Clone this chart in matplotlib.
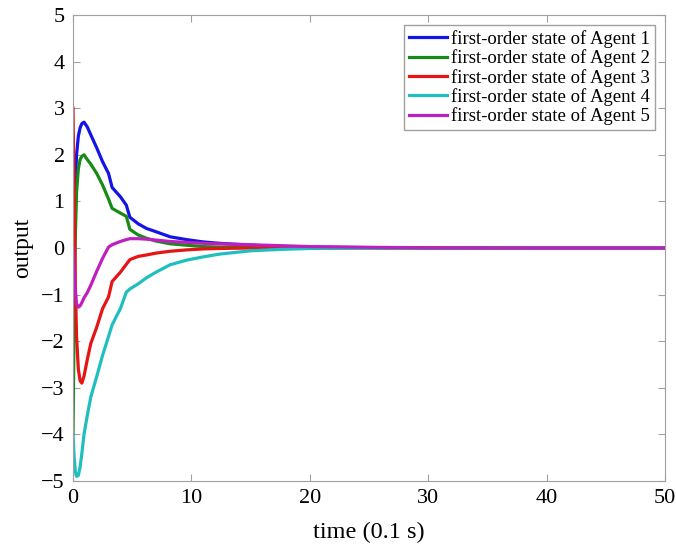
import matplotlib
matplotlib.use('Agg')
import matplotlib.pyplot as plt

plt.rcParams['font.family'] = ['Liberation Serif', 'DejaVu Serif']

# time axis (units of 0.1 s), shared by all agents
T = [0, 0.1, 0.2, 0.3, 0.45, 0.6, 0.75, 0.93, 1.2, 1.5, 2.0, 2.5, 3.0, 3.3, 4.0,
     4.5, 4.8, 5.5, 6.2, 7.0, 8.2, 9.6, 11, 12.4, 15, 17.5, 20, 25, 30, 40, 50]

AGENT1 = [-1.0, 0.3, 1.4, 2.0, 2.4, 2.58, 2.67, 2.70, 2.6, 2.43, 2.15, 1.85, 1.6, 1.3, 1.1,
          0.92, 0.66, 0.52, 0.42, 0.35, 0.24, 0.18, 0.13, 0.1, 0.06, 0.035, 0.02, 0.008, 0.002, 0, 0]
AGENT2 = [-4.0, -1.5, 0.3, 1.2, 1.7, 1.9, 1.97, 2.0, 1.9, 1.8, 1.6, 1.35, 1.05, 0.85, 0.75,
          0.68, 0.40, 0.28, 0.21, 0.15, 0.09, 0.06, 0.03, 0.02, 0.01, 0, 0, 0, 0, 0, 0]
AGENT3 = [3.0, 1.0, -0.8, -1.9, -2.6, -2.85, -2.9, -2.75, -2.4, -2.05, -1.7, -1.3, -1.05, -0.72, -0.52,
          -0.35, -0.25, -0.18, -0.15, -0.11, -0.07, -0.04, -0.02, -0.01, 0, 0, 0, 0, 0, 0, 0]
AGENT4 = [-4.0, -4.5, -4.8, -4.9, -4.88, -4.7, -4.4, -4.0, -3.6, -3.2, -2.76, -2.3, -1.9, -1.65, -1.3,
          -0.95, -0.88, -0.77, -0.64, -0.52, -0.36, -0.26, -0.19, -0.13, -0.06, -0.03, -0.01, -0.005, 0, 0, 0]
AGENT5 = [0, -0.5, -0.95, -1.2, -1.27, -1.24, -1.17, -1.07, -0.96, -0.8, -0.5, -0.22, 0.02, 0.07, 0.14,
          0.18, 0.2, 0.2, 0.19, 0.17, 0.14, 0.12, 0.1, 0.09, 0.07, 0.05, 0.03, 0.015, 0.005, 0, 0]

SERIES = [AGENT1, AGENT2, AGENT3, AGENT4, AGENT5]
COLORS = ['#1414e6', '#178a17', '#e61414', '#1fbfbf', '#bf1fbf']
LABELS = ['first-order state of Agent %d' % i for i in range(1, 6)]

fig = plt.figure(figsize=(6.76, 5.48), dpi=100)
ax = fig.add_axes([0.108, 0.1223, 0.876, 0.8503])

for ys, c, lab in zip(SERIES, COLORS, LABELS):
    ax.plot(T, ys, color=c, linewidth=2.3, label=lab)

ax.set_xlim(0, 50)
ax.set_ylim(-5, 5)
ax.set_xticks(range(0, 51, 10))
ax.set_yticks(range(-5, 6))
ax.set_yticklabels(['\u2212%d' % -v if v < 0 else str(v) for v in range(-5, 6)])
for s in ax.spines.values():
    s.set_color('#a0a0a0')
ax.tick_params(direction='in', top=True, right=True, color='#a0a0a0',
               labelsize=16, length=5, pad=6)

ax.set_xlabel('time (0.1 s)', fontsize=17.5, labelpad=10)
ax.set_ylabel('output', fontsize=17, labelpad=6)

leg = ax.legend(loc='upper right', fontsize=13.5, fancybox=False, framealpha=1,
                edgecolor='#a0a0a0', handlelength=2.0, handletextpad=0.25,
                borderpad=0.25, labelspacing=0.08, borderaxespad=0.55)
leg.get_frame().set_linewidth(1.0)

fig.savefig('out.png', dpi=100)
